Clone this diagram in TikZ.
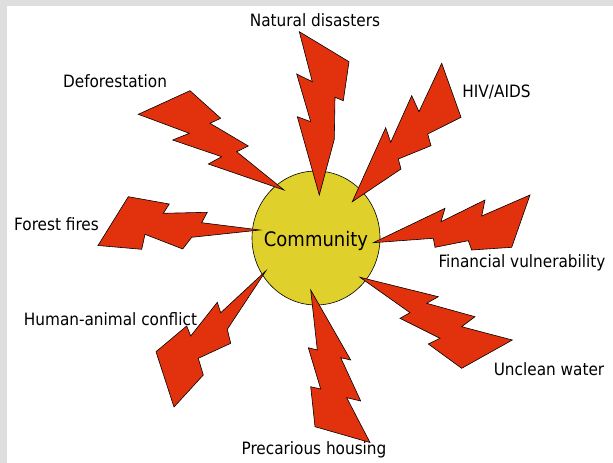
\documentclass[tikz,border=0pt]{standalone}
\usepackage{fontspec}
\setmainfont{DejaVu Sans Condensed}
\usepackage{tikz}
\usetikzlibrary{shapes.geometric}

\definecolor{boltred}{RGB}{226,50,13}
\definecolor{hubyellow}{RGB}{224,208,44}
\definecolor{framegray}{RGB}{222,222,222}

\begin{document}
\begin{tikzpicture}[x=1pt,y=-1pt,
  bolt/.style={draw=black, fill=boltred, line width=0.6pt, line join=miter},
  hub/.style={ellipse, draw=black, fill=hubyellow, line width=0.6pt, minimum width=128pt, minimum height=134pt, inner sep=0pt},
  lbl/.style={anchor=base, inner sep=0pt, font=\fontsize{17}{20}\selectfont}]
    % frame: white page, grey strips on top and left only
    \useasboundingbox (0,0) rectangle (613,463);
    \fill[white] (-2,-2) rectangle (616,466);
    \fill[framegray] (-2,-2) rectangle (616,6);
    \fill[framegray] (-2,-2) rectangle (7,466);

    \node[hub] (community) at (316,238) {};

    % threats striking the community
    \draw[bolt] (299.3,31.7) -- (349,61.7) -- (343.3,100.7) -- (335,97.3) -- (334.3,139.3) -- (319.3,195)
      -- (297.3,116.7) -- (310.7,121.7) -- (296.7,74) -- (312.3,81.7) -- cycle;
    \draw[bolt] (441.7,63.3) -- (461,117.3) -- (427.7,134) -- (431,145.7) -- (398.3,159) -- (401,169)
      -- (352.3,201.7) -- (385.7,127.7) -- (390.7,142.3) -- (411.7,95.7) -- (419,111.7) -- cycle;
    \draw[bolt] (190,90.7) -- (220.7,118.3) -- (210,123.3) -- (248.3,146) -- (236.7,151.7) -- (284,190)
      -- (208.3,164) -- (221.7,156.7) -- (172.7,140) -- (189.3,133.3) -- (138.3,114.3) -- cycle;
    \draw[bolt] (128.3,196.7) -- (169.3,204) -- (163.3,213.3) -- (207.3,212.3) -- (201.7,222.7) -- (260,230)
      -- (191.7,237.3) -- (182.7,249) -- (145,234.3) -- (141.7,249.3) -- (98,245.5) -- cycle;
    \draw[bolt] (530,195) -- (481.7,216) -- (485,200) -- (441,221.7) -- (445,208.3) -- (373.3,242.7)
      -- (433.3,238.3) -- (435,247.3) -- (468.3,240.7) -- (471.7,250) -- (511.7,247.3) -- cycle;
    \draw[bolt] (360,277.3) -- (438.3,296.7) -- (426.7,303.3) -- (475,316.7) -- (461.7,326.7) -- (512.3,340)
      -- (461.7,368.3) -- (428.3,344) -- (440,338.3) -- (400,318.3) -- (410,312.7) -- cycle;
    \draw[bolt] (310.7,290) -- (350.7,360) -- (340.7,357.7) -- (360.7,401) -- (346.7,397.7) -- (370,442.5)
      -- (315,426.7) -- (310.7,386.7) -- (320.7,389) -- (308.3,347.7) -- (317.3,350) -- cycle;
    \draw[bolt] (266,270.7) -- (227.3,329.3) -- (230.7,343.3) -- (198.3,358.3) -- (203.3,375) -- (174,407)
      -- (156,351.7) -- (186.7,326) -- (190.7,336) -- (217.3,302.3) -- (220.7,312.7) -- cycle;

    \node[lbl, font=\fontsize{20}{24}\selectfont] (hubtext) at (316,246.5) {Community};

    \node[lbl] (natural) at (315,26) {Natural disasters};
    \node[lbl] (defor) at (115,87.5) {Deforestation};
    \node[lbl] (hiv) at (496.5,97.5) {HIV/AIDS};
    \node[lbl] (fires) at (56.5,230.5) {Forest fires};
    \node[lbl] (finance) at (522,267.5) {Financial vulnerability};
    \node[lbl] (conflict) at (110.5,325) {Human-animal conflict};
    \node[lbl] (water) at (549,375.5) {Unclean water};
    \node[lbl] (housing) at (314,454) {Precarious housing};
\end{tikzpicture}
\end{document}
